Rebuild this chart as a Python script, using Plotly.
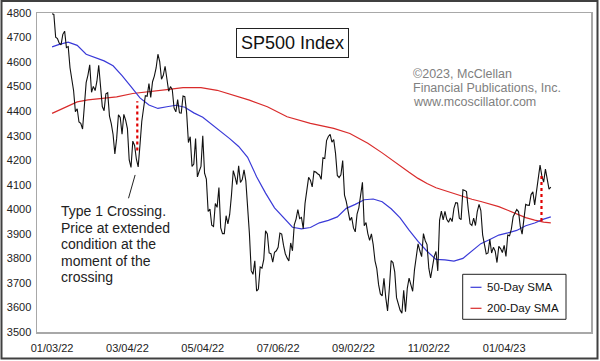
import plotly.graph_objects as go

# ---------------- data ----------------
tick_idx = [0, 42, 84, 126, 168, 210, 252]
tick_text = ["01/03/22", "03/04/22", "05/04/22", "07/06/22", "09/02/22", "11/02/22", "01/04/23"]
y_ticks = [3500, 3600, 3700, 3800, 3900, 4000, 4100, 4200, 4300, 4400, 4500, 4600, 4700, 4800]

# daily closes, trading-day index 0 = 01/03/22
price = [
    4797, 4794, 4701, 4696, 4677, 4670, 4713, 4726, 4659, 4663,
    4577, 4533, 4483, 4398, 4410, 4356, 4350, 4327, 4432, 4516,
    4547, 4589, 4477, 4501, 4484, 4522, 4587, 4504, 4419, 4402,
    4471, 4475, 4380, 4349, 4305, 4226, 4289, 4385, 4374, 4306,
    4387, 4363, 4329, 4201, 4171, 4278, 4260, 4204, 4173, 4262,
    4358, 4412, 4463, 4461, 4512, 4456, 4520, 4543, 4576, 4632,
    4602, 4530, 4546, 4583, 4525, 4481, 4500, 4488, 4413, 4397,
    4447, 4393, 4392, 4462, 4459, 4394, 4272, 4296, 4175, 4184,
    4288, 4132, 4155, 4175, 4300, 4147, 4123, 3991, 4001, 3935,
    3930, 4024, 4008, 4089, 3924, 3901, 3901, 3974, 3941, 3979,
    4058, 4158, 4132, 4101, 4177, 4109, 4121, 4161, 4116, 4018,
    3901, 3750, 3735, 3790, 3667, 3675, 3765, 3760, 3796, 3912,
    3900, 3822, 3819, 3785, 3825, 3831, 3845, 3903, 3899, 3854,
    3819, 3802, 3790, 3863, 3831, 3937, 3960, 3999, 3962, 3967,
    3921, 4024, 4072, 4130, 4119, 4091, 4155, 4152, 4145, 4140,
    4122, 4210, 4207, 4280, 4297, 4305, 4274, 4284, 4228, 4138,
    4129, 4141, 4199, 4058, 4031, 3986, 3955, 3967, 3924, 3908,
    3980, 4006, 4067, 4110, 3933, 3946, 3901, 3873, 3900, 3856,
    3790, 3758, 3693, 3655, 3647, 3719, 3640, 3586, 3678, 3791,
    3783, 3745, 3640, 3612, 3589, 3577, 3670, 3583, 3678, 3720,
    3695, 3666, 3753, 3797, 3859, 3831, 3807, 3901, 3872, 3856,
    3760, 3720, 3771, 3807, 3828, 3749, 3956, 3993, 3957, 3992,
    3959, 3947, 3965, 3950, 4004, 4027, 4026, 3964, 3958, 4080,
    4077, 4072, 3999, 3941, 3934, 3964, 3934, 3991, 4020, 3995,
    3896, 3852, 3818, 3822, 3878, 3822, 3845, 3829, 3783, 3849,
    3840, 3824, 3853, 3808, 3895, 3892, 3919, 3970, 3983, 3999,
    3991, 3929, 3899, 3973, 4020, 4017, 4016, 4060, 4071, 4018,
    4077, 4119, 4180, 4136, 4111, 4164, 4118, 4082, 4090,
]

sma50_idx = [0, 4, 9, 14, 19, 24, 29, 34, 39, 44, 49, 54, 59, 64, 69, 74, 79, 84, 89, 94,
             99, 104, 109, 114, 119, 124, 129, 134, 139, 144, 149, 154, 159, 164, 169, 174,
             179, 184, 189, 194, 199, 204, 209, 214, 219, 224, 229, 234, 239, 244, 249, 254,
             259, 264, 269, 274, 278]
sma50_val = [4662, 4672, 4681, 4668, 4632, 4620, 4605, 4585, 4545, 4500, 4454, 4425, 4411, 4418,
             4424, 4416, 4393, 4375, 4347, 4317, 4288, 4256, 4212, 4133, 4066, 4006, 3966, 3927,
             3920, 3926, 3945, 3955, 3969, 4004, 4020, 4039, 4042, 4031, 4002, 3965, 3915, 3869,
             3829, 3796, 3794, 3789, 3800, 3830, 3860, 3877, 3895, 3904, 3914, 3933, 3944, 3960,
             3969]

sma200_idx = [0, 4, 8, 14, 20, 27, 36, 45, 55, 64, 73, 83, 92, 101, 110, 120, 131, 144, 157,
              166, 176, 184, 189, 194, 199, 204, 209, 214, 219, 224, 229, 234, 239, 244, 249,
              254, 259, 264, 269, 274, 278]
sma200_val = [4391, 4405, 4420, 4438, 4446, 4452, 4458, 4472, 4479, 4488, 4496, 4496, 4485,
              4465, 4445, 4418, 4377, 4350, 4330, 4309, 4269, 4230, 4203, 4177, 4151, 4126,
              4105, 4088, 4076, 4062, 4050, 4041, 4032, 4021, 4011, 3996, 3981, 3966, 3956,
              3948, 3945]

# crossing markers: x index, price end, SMA end
cross_x = [47.5, 272.8]
cross_lo = [4240, 4136]
cross_hi = [4440, 3952]

# pointer from note to first crossing
pointer_x = [42.6, 46.3]
pointer_y = [4045, 4140]

note_lines = ["Type 1 Crossing.", "Price at extended", "condition at the", "moment of the", "crossing"]
copyright_lines = ["\u00a92023, McClellan", "Financial Publications, Inc.", "www.mcoscillator.com"]
legend_names = ["50-Day SMA", "200-Day SMA"]

# ---------------- figure ----------------
FONT = "Arial, 'Liberation Sans', sans-serif"
BLUE = "#3a3ad8"
RED = "#d92b2b"

L, R, T, B = 37, 9, 13, 29
W, H = 600, 361
PW, PH = W - L - R, H - T - B


def px(x):
    return (x - L) / PW


def py(y):
    return (H - B - y) / PH


fig = go.Figure()
fig.add_trace(go.Scatter(x=sma200_idx, y=sma200_val, mode="lines",
                         line=dict(color=RED, width=1.2), name=legend_names[1], showlegend=False))
fig.add_trace(go.Scatter(x=sma50_idx, y=sma50_val, mode="lines",
                         line=dict(color=BLUE, width=1.2), name=legend_names[0], showlegend=False))
fig.add_trace(go.Scatter(x=list(range(len(price))), y=price, mode="lines",
                         line=dict(color="#111111", width=1.1), name="SP500", showlegend=False))
for cx, lo, hi in zip(cross_x, cross_lo, cross_hi):
    fig.add_trace(go.Scatter(x=[cx, cx], y=[lo, hi], mode="lines",
                             line=dict(color="#e00000", width=2.2, dash="dot"), showlegend=False))
fig.add_trace(go.Scatter(x=pointer_x, y=pointer_y, mode="lines",
                         line=dict(color="#222222", width=1), showlegend=False))

ann = []
# title box
ann.append(dict(text="SP500 Index", x=px(292.5), y=py(43.3), xref="paper", yref="paper",
                xanchor="center", yanchor="middle", showarrow=False,
                font=dict(family=FONT, size=18, color="#111111"),
                bgcolor="white", bordercolor="#222222", borderwidth=1, borderpad=4))
# copyright
for t, yy in zip(copyright_lines, [74, 88, 102]):
    ann.append(dict(text=t, x=px(411.5), y=py(yy), xref="paper", yref="paper",
                    xanchor="left", yanchor="middle", showarrow=False,
                    font=dict(family=FONT, size=12.5, color="#808080")))
# note
for t, yy in zip(note_lines, [211, 227.6, 244.2, 260.8, 277.4]):
    ann.append(dict(text=t, x=px(59), y=py(yy), xref="paper", yref="paper",
                    xanchor="left", yanchor="middle", showarrow=False,
                    font=dict(family=FONT, size=14, color="#222222")))
# legend texts
for t, yy in zip(legend_names, [287.3, 308.3]):
    ann.append(dict(text=t, x=px(485), y=py(yy), xref="paper", yref="paper",
                    xanchor="left", yanchor="middle", showarrow=False,
                    font=dict(family=FONT, size=11.5, color="#111111")))

shapes = [
    # outer border
    dict(type="rect", xref="paper", yref="paper", x0=px(1.5), x1=px(597.5), y0=py(1), y1=py(358.5),
         line=dict(color="#404040", width=2), fillcolor="rgba(0,0,0,0)", layer="above"),
    # legend box
    dict(type="rect", xref="paper", yref="paper", x0=px(462.7), x1=px(566), y0=py(274.3), y1=py(319.3),
         line=dict(color="#222222", width=1), fillcolor="white", layer="above"),
    dict(type="line", xref="paper", yref="paper", x0=px(470.5), x1=px(481.5), y0=py(287.3), y1=py(287.3),
         line=dict(color=BLUE, width=1.2), layer="above"),
    dict(type="line", xref="paper", yref="paper", x0=px(470.5), x1=px(481.5), y0=py(308.3), y1=py(308.3),
         line=dict(color=RED, width=1.2), layer="above"),
]

fig.update_layout(
    width=W, height=H,
    margin=dict(l=L, r=R, t=T, b=B, pad=0, autoexpand=False),
    paper_bgcolor="white", plot_bgcolor="white",
    showlegend=False,
    annotations=ann, shapes=shapes,
    font=dict(family=FONT, size=11, color="#222222"),
)
fig.update_xaxes(range=[-8.4, 300.4], tickvals=tick_idx, ticktext=tick_text, automargin=False,
                 showgrid=False, zeroline=False, showline=True, mirror=True,
                 linecolor="#a8a8a8", linewidth=1.5, ticks="", ticklabelstandoff=5,
                 tickfont=dict(family=FONT, size=11, color="#222222"))
fig.update_yaxes(range=[3500, 4800], tickvals=y_ticks, automargin=False,
                 showgrid=False, zeroline=False, showline=True, mirror=True,
                 linecolor="#a8a8a8", linewidth=1.5, ticks="", ticklabelstandoff=2,
                 tickfont=dict(family=FONT, size=11, color="#222222"))

fig.write_html("out.html", config={"displayModeBar": False, "staticPlot": True},
               post_script="document.body.style.margin='0';document.body.style.padding='0';")
